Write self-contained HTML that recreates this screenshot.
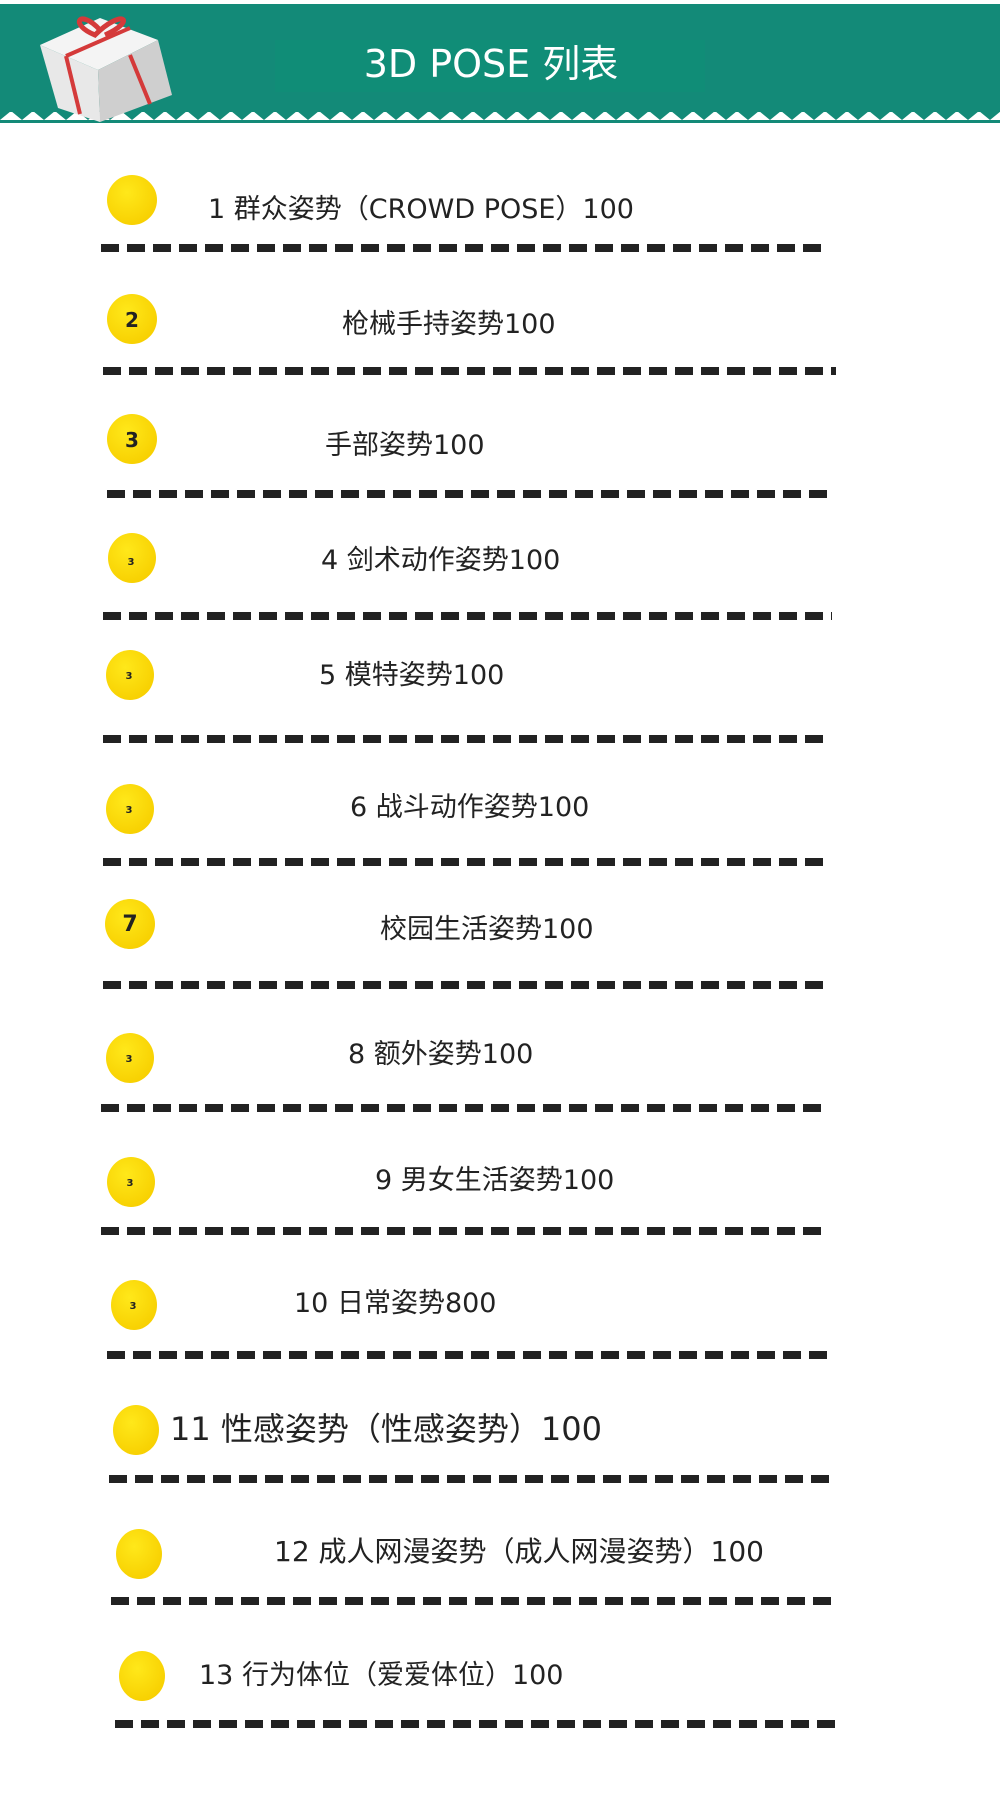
<!DOCTYPE html>
<html><head><meta charset="utf-8"><style>
html,body{margin:0;padding:0;background:#fff;}
svg{display:block;}
text{font-family:"DejaVu Sans","Noto Sans CJK SC",sans-serif;fill:#222;}
</style></head><body>
<svg width="1000" height="1800" viewBox="0 0 1000 1800" xmlns="http://www.w3.org/2000/svg">
<defs>
<pattern id="zz" x="0" y="0" width="22" height="12" patternUnits="userSpaceOnUse">
<path d="M0 0 L22 0 L22 12 L11 3 L0 12 Z" fill="#138a78"/>
</pattern>
<radialGradient id="yg" cx="40%" cy="35%" r="70%"><stop offset="0" stop-color="#ffe81a"/><stop offset="1" stop-color="#f7cf00"/></radialGradient>
</defs>
<rect x="0" y="4" width="1000" height="108" fill="#138a78"/>
<rect x="0" y="111" width="1000" height="12" fill="url(#zz)"/>
<rect x="275" y="40" width="430" height="52" fill="#0f8f76" opacity="0.7"/>
<text x="491" y="77" font-size="38" text-anchor="middle" style="fill:#fff">3D POSE 列表</text>
<g>
<polygon points="40,45 100,18 158,40 98,70" fill="#f4f4f4"/>
<polygon points="40,45 98,70 100,122 58,108" fill="#e8e8e8"/>
<polygon points="98,70 158,40 172,95 100,122" fill="#cfcfcf"/>
<line x1="66" y1="56" x2="80" y2="114" stroke="#d43a3a" stroke-width="4"/>
<line x1="130" y1="55" x2="150" y2="104" stroke="#d43a3a" stroke-width="4"/>
<line x1="66" y1="56" x2="130" y2="28" stroke="#d43a3a" stroke-width="4"/>
<path d="M100 30 C80 8 68 24 95 35 C122 8 138 20 105 35" fill="none" stroke="#d43a3a" stroke-width="5"/>
</g>
<g fill="url(#yg)">
<ellipse cx="132" cy="200" rx="25" ry="25"/>
<ellipse cx="132" cy="319" rx="25" ry="25"/>
<ellipse cx="132" cy="439" rx="25" ry="25"/>
<ellipse cx="132" cy="558" rx="24" ry="25"/>
<ellipse cx="130" cy="675" rx="24" ry="25"/>
<ellipse cx="130" cy="809" rx="24" ry="25"/>
<ellipse cx="130" cy="924" rx="25" ry="25"/>
<ellipse cx="130" cy="1058" rx="24" ry="25"/>
<ellipse cx="131" cy="1182" rx="24" ry="25"/>
<ellipse cx="134" cy="1305" rx="23" ry="25"/>
<ellipse cx="136" cy="1430" rx="23" ry="25"/>
<ellipse cx="139" cy="1554" rx="23" ry="25"/>
<ellipse cx="142" cy="1676" rx="23" ry="25"/>
</g>
<g font-size="20" font-weight="bold" text-anchor="middle">
<text x="132" y="327">2</text>
<text x="132" y="447">3</text>
<text x="130" y="931" font-size="22">7</text>
<text x="131" y="565" font-size="10">3</text>
<text x="129" y="679" font-size="10">3</text>
<text x="129" y="813" font-size="10">3</text>
<text x="129" y="1062" font-size="10">3</text>
<text x="130" y="1186" font-size="10">3</text>
<text x="133" y="1309" font-size="10">3</text>
</g>
<g font-size="27">
<text x="208" y="218">1 群众姿势（CROWD POSE）100</text>
<text x="342" y="333">枪械手持姿势100</text>
<text x="325" y="454">手部姿势100</text>
<text x="321" y="569">4 剑术动作姿势100</text>
<text x="319" y="684">5 模特姿势100</text>
<text x="350" y="816">6 战斗动作姿势100</text>
<text x="380" y="938">校园生活姿势100</text>
<text x="348" y="1063">8 额外姿势100</text>
<text x="375" y="1189">9 男女生活姿势100</text>
<text x="294" y="1312">10 日常姿势800</text>
<text x="170" y="1440" font-size="32">11 性感姿势（性感姿势）100</text>
<text x="274" y="1561" font-size="28">12 成人网漫姿势（成人网漫姿势）100</text>
<text x="199" y="1684">13 行为体位（爱爱体位）100</text>
</g>
<g stroke="#222" stroke-width="8" stroke-dasharray="18 8">
<line x1="101" y1="248" x2="824" y2="248"/>
<line x1="103" y1="371" x2="836" y2="371"/>
<line x1="107" y1="494" x2="830" y2="494"/>
<line x1="103" y1="616" x2="832" y2="616"/>
<line x1="103" y1="739" x2="824" y2="739"/>
<line x1="103" y1="862" x2="826" y2="862"/>
<line x1="103" y1="985" x2="828" y2="985"/>
<line x1="101" y1="1108" x2="826" y2="1108"/>
<line x1="101" y1="1231" x2="828" y2="1231"/>
<line x1="107" y1="1355" x2="830" y2="1355"/>
<line x1="109" y1="1479" x2="832" y2="1479"/>
<line x1="111" y1="1601" x2="834" y2="1601"/>
<line x1="115" y1="1724" x2="838" y2="1724"/>
</g>
</svg>
</body></html>
